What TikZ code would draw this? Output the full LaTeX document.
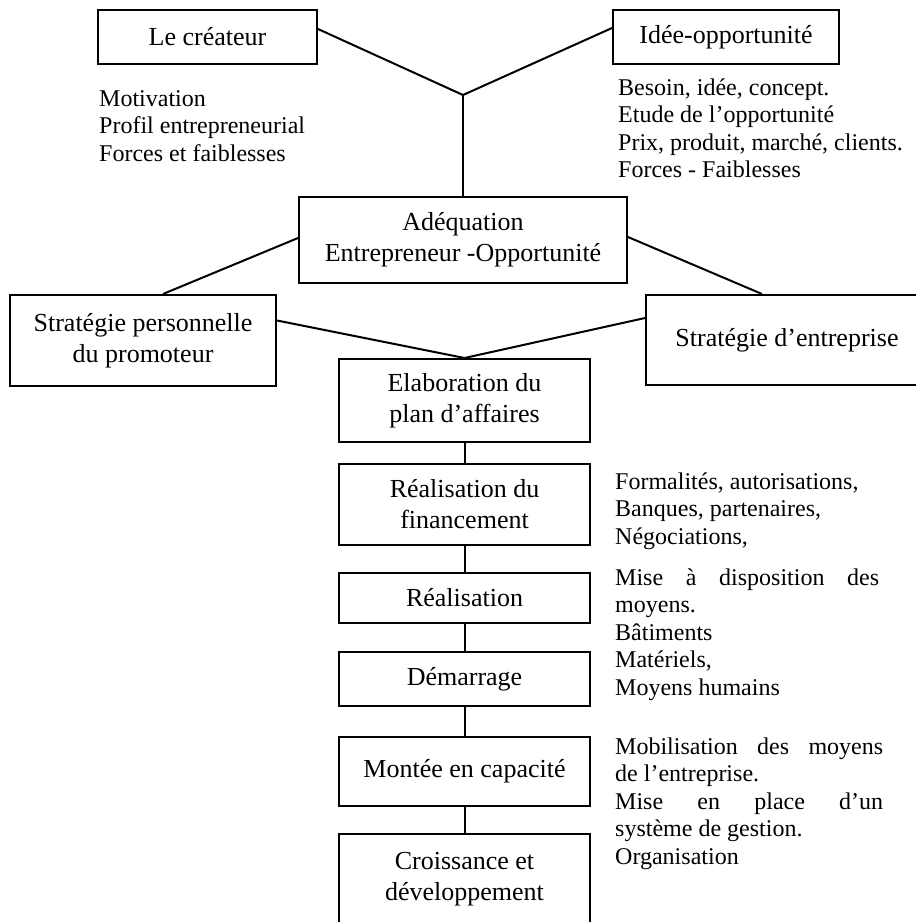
\documentclass[tikz,border=0pt]{standalone}
\usepackage{fontspec}
\setmainfont{Liberation Serif}
\begin{document}
\begin{tikzpicture}[x=1pt,y=-1pt,
  box/.style={draw, line width=2pt, inner sep=0pt, align=center, font=\fontsize{26}{31}\selectfont},
  note/.style={anchor=north west, inner sep=0pt, align=left, font=\fontsize{24}{27.5}\selectfont},
  link/.style={line width=2pt}]
\useasboundingbox (0,0) rectangle (916,922);
\clip (0,0) rectangle (916,922);
\node[box, minimum width=219pt, minimum height=54pt] (createur) at (207.5,37) {Le créateur};
\node[box, minimum width=226pt, minimum height=54pt] (idee) at (726,37) {Idée-opportunité};
\coordinate (J) at (463,95);
\node[box, minimum width=328pt, minimum height=86pt] (adeq) at (463,240) {Adéquation\\Entrepreneur -Opportunité};
\node[box, minimum width=266pt, minimum height=91pt] (sperso) at (143,340.5) {Stratégie personnelle\\du promoteur};
\node[box, minimum width=282pt, minimum height=90pt] (sent) at (787,340) {Stratégie d’entreprise};
\node[box, minimum width=251pt, minimum height=83pt] (elab) at (464.5,400.5) {Elaboration du\\plan d’affaires};
\node[box, minimum width=251pt, minimum height=81pt] (fin) at (464.5,504.5) {Réalisation du\\financement};
\node[box, minimum width=251pt, minimum height=50pt] (real) at (464.5,598) {Réalisation};
\node[box, minimum width=251pt, minimum height=54pt] (dem) at (464.5,679) {Démarrage};
\node[box, minimum width=251pt, minimum height=69pt] (mont) at (464.5,771.5) {Montée en capacité};
\node[box, minimum width=251pt, minimum height=91pt] (crois) at (464.5,879.5) {Croissance et\\développement};

\draw[link] ([yshift=8pt]createur.east) -- (J);
\draw[link] ([yshift=9pt]idee.west) -- (J);
\draw[link] (J) -- (adeq.north);
\draw[link] ([yshift=2pt]adeq.west) -- ([xshift=20pt]sperso.north);
\draw[link] ([yshift=3pt]adeq.east) -- ([xshift=-25pt]sent.north);
\draw[link] ([yshift=20pt]sperso.east) -- (elab.north);
\draw[link] ([yshift=22pt]sent.west) -- (elab.north);
\draw[link] (elab) -- (fin);
\draw[link] (fin) -- (real);
\draw[link] (real) -- (dem);
\draw[link] (dem) -- (mont);
\draw[link] (mont) -- (crois);

\node[note] (t1) at (99,88) {\rule{0pt}{18pt}Motivation\\Profil entrepreneurial\\Forces et faiblesses};
\node[note] (t2) at (618,77) {\rule{0pt}{18pt}Besoin, idée, concept.\\Etude de l’opportunité\\Prix, produit, marché, clients.\\Forces - Faiblesses};
\node[note] (t3) at (615,471) {\rule{0pt}{18pt}Formalités, autorisations,\\Banques, partenaires,\\Négociations,};
\node[note] (t4) at (615,567) {\rule{0pt}{18pt}\makebox[264pt][s]{Mise à disposition des}\\moyens.\\Bâtiments\\Matériels,\\Moyens humains};
\node[note] (t5) at (615,736) {\rule{0pt}{18pt}\makebox[268pt][s]{Mobilisation des moyens}\\de l’entreprise.\\\makebox[268pt][s]{Mise en place d’un}\\système de gestion.\\Organisation};
\end{tikzpicture}
\end{document}
